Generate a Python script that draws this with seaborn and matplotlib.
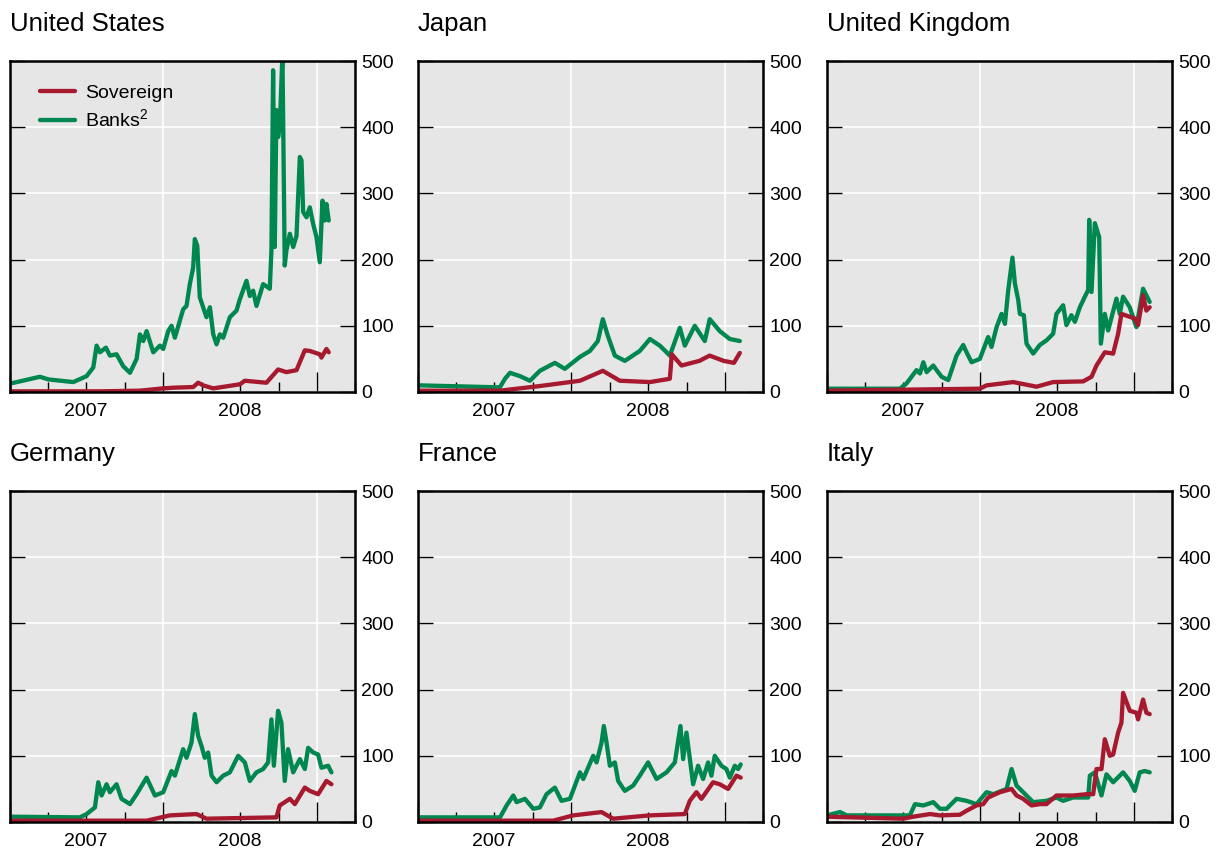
import numpy as np
import pandas as pd
import matplotlib
matplotlib.use("Agg")
import matplotlib.pyplot as plt
import matplotlib.dates as mdates
import matplotlib.ticker as mticker
from matplotlib.lines import Line2D
import seaborn as sns

# Five-year CDS spreads, basis points.
# *_t values are months elapsed since 1 January 2007.
countries = ["United States", "Japan", "United Kingdom", "Germany", "France", "Italy"]
series_names = ["Sovereign", "Banks$^2$"]

us_sov_t = [0, 7.03, 10.16, 11.98, 12.76, 14.32, 14.71, 15.1, 15.89, 17.97, 18.36, 20.05,
            20.96, 21.61, 22.4, 23.05, 23.44, 24.22, 24.35, 24.74, 24.92]
us_sov_v = [1, 1, 2, 5.5, 6.5, 7.5, 14, 10, 5.5, 11.6, 17, 14, 34, 30, 33, 63, 62, 57, 52, 65, 60]
us_bank_t = [0.08, 2.34, 3.0, 4.95, 5.99, 6.51, 6.77, 7.03, 7.5, 7.81, 8.33, 8.85, 9.38, 9.9,
             10.16, 10.42, 10.68, 11.2, 11.72, 11.98, 12.37, 12.63, 12.89, 13.54, 13.8, 14.06,
             14.32, 14.45, 14.64, 14.84, 15.1, 15.36, 15.63, 15.89, 16.15, 16.41, 16.67, 17.19,
             17.71, 17.97, 18.49, 18.75, 19.01, 19.27, 19.79, 20.31, 20.44, 20.57, 20.7, 20.83,
             20.96, 21.09, 21.3, 21.48, 21.61, 21.88, 22.14, 22.4, 22.66, 22.79, 22.92, 23.18,
             23.44, 23.7, 23.96, 24.22, 24.43, 24.61, 24.74, 24.92]
us_bank_v = [13, 23, 19, 15, 24, 37, 70, 60, 67, 55, 57, 39, 29, 50, 87, 77, 92, 60, 70, 65, 92,
             100, 82, 125, 130, 163, 188, 231, 221, 143, 128, 113, 128, 87, 72, 87, 82, 113, 123,
             140, 168, 145, 153, 130, 163, 156, 214, 486, 219, 426, 385, 400, 510, 191, 214, 239,
             219, 236, 355, 350, 272, 264, 279, 254, 234, 196, 289, 259, 284, 259]

jp_sov_t = [0, 6.4, 9.53, 12.66, 14.45, 15.78, 18.13, 19.69, 19.84, 20.6, 22.0, 22.8, 23.9,
            24.7, 25.16]
jp_sov_v = [2, 2, 9, 17, 32, 17, 15, 20, 57, 40, 47, 55, 47, 44, 59]
jp_bank_t = [0.16, 6.4, 6.8, 7.19, 7.97, 8.75, 9.53, 10.7, 11.48, 12.66, 13.44, 14.06, 14.45,
             14.84, 15.39, 16.17, 17.34, 18.13, 18.91, 19.69, 20.47, 20.86, 21.64, 22.42, 22.81,
             23.59, 24.38, 25.16]
jp_bank_v = [10, 7, 20, 29, 24, 17, 32, 44, 35, 53, 62, 77, 110, 85, 55, 47, 62, 80, 70, 55, 97,
             70, 100, 77, 110, 92, 80, 77]

uk_sov_t = [0, 11.95, 12.47, 14.56, 16.38, 17.68, 20.03, 20.68, 21.07, 21.72, 22.37, 22.76,
            23.02, 24.06, 24.32, 24.71, 24.97, 25.23]
uk_sov_v = [2, 5, 10, 15, 8, 15, 16, 23, 40, 60, 58, 88, 118, 111, 101, 146, 123, 128]
uk_bank_t = [0, 5.7, 6.22, 7.0, 7.27, 7.53, 7.79, 8.31, 8.57, 8.96, 9.48, 10.13, 10.65, 10.91,
             11.3, 11.95, 12.6, 12.86, 13.26, 13.65, 13.91, 14.17, 14.5, 14.69, 14.95, 15.08,
             15.39, 15.6, 16.12, 16.64, 17.16, 17.68, 17.94, 18.46, 18.72, 19.11, 19.38, 19.77,
             20.16, 20.42, 20.5, 20.68, 20.94, 21.28, 21.41, 21.72, 21.98, 22.63, 22.89, 23.15,
             23.67, 24.19, 24.71, 25.23]
uk_bank_v = [5, 5, 13, 33, 28, 45, 30, 40, 33, 23, 18, 55, 71, 60, 45, 50, 83, 68, 98, 118, 103,
             154, 203, 164, 139, 118, 116, 73, 58, 71, 78, 88, 118, 131, 101, 116, 106, 128, 144,
             154, 260, 151, 255, 234, 73, 118, 93, 141, 118, 144, 128, 98, 156, 136]

de_sov_t = [0, 10.68, 12.5, 14.58, 15.36, 20.83, 21.09, 21.88, 22.27, 23.05, 23.44, 24.09,
            24.74, 25.13]
de_sov_v = [2, 2, 10, 12, 5, 7, 25, 35, 27, 52, 47, 42, 62, 57]
de_bank_t = [0.08, 5.47, 5.99, 6.64, 6.9, 7.16, 7.55, 7.81, 8.33, 8.72, 9.38, 9.9, 10.68, 11.33,
             11.98, 12.63, 12.89, 13.54, 13.8, 14.19, 14.45, 14.71, 14.97, 15.23, 15.49, 15.76,
             16.15, 16.67, 17.19, 17.84, 18.36, 18.75, 19.27, 19.79, 20.18, 20.44, 20.63, 20.96,
             21.22, 21.48, 21.74, 22.14, 22.66, 23.05, 23.31, 23.7, 24.09, 24.35, 24.87, 25.13]
de_bank_v = [8, 7, 12, 22, 60, 40, 57, 45, 57, 35, 27, 42, 67, 40, 45, 77, 70, 110, 97, 120, 163,
             130, 115, 97, 105, 70, 60, 70, 75, 100, 90, 62, 75, 80, 90, 155, 85, 168, 150, 62,
             110, 75, 95, 80, 112, 105, 102, 82, 85, 75]

fr_sov_t = [0, 10.57, 12.14, 14.35, 15.26, 18.13, 20.86, 21.25, 21.77, 22.16, 23.07, 23.59,
            24.24, 24.9, 25.23]
fr_sov_v = [2, 2, 10, 15, 5, 10, 12, 32, 45, 35, 60, 57, 50, 70, 67]
fr_bank_t = [0.08, 6.41, 6.93, 7.45, 7.71, 8.36, 9.01, 9.53, 10.05, 10.7, 11.22, 11.88, 12.66,
             12.92, 13.7, 13.96, 14.35, 14.53, 14.74, 15.0, 15.39, 15.65, 16.17, 16.82, 17.34,
             17.99, 18.65, 19.43, 20.08, 20.52, 20.73, 20.99, 21.51, 21.9, 22.29, 22.68, 22.94,
             23.2, 23.72, 24.11, 24.38, 24.77, 25.03, 25.23]
fr_bank_v = [7, 7, 25, 40, 30, 35, 20, 22, 42, 52, 32, 35, 75, 65, 100, 90, 120, 145, 120, 85,
             90, 62, 47, 55, 70, 90, 65, 75, 90, 145, 95, 135, 57, 85, 65, 90, 70, 100, 85, 80,
             67, 85, 80, 87]

it_sov_t = [0, 5.96, 6.74, 8.05, 8.83, 10.39, 10.91, 11.69, 12.21, 12.6, 13.52, 14.43, 14.82,
            15.34, 15.99, 16.64, 17.16, 17.94, 19.24, 20.29, 20.81, 21.07, 21.46, 21.72, 22.11,
            22.37, 22.76, 23.02, 23.15, 23.67, 24.19, 24.32, 24.71, 24.97, 25.23]
it_sov_v = [8, 5, 8, 12, 10, 11, 17, 25, 27, 37, 45, 50, 40, 35, 25, 27, 27, 40, 40, 42, 42, 80,
            80, 125, 100, 102, 135, 150, 195, 168, 165, 155, 185, 165, 163]
it_bank_t = [0, 1.02, 1.54, 6.48, 6.88, 7.53, 8.31, 8.83, 9.35, 10.13, 10.91, 11.69, 12.47,
             13.0, 14.04, 14.43, 14.82, 15.34, 16.12, 17.16, 17.94, 18.46, 19.24, 20.42, 20.55,
             20.94, 21.46, 21.85, 22.37, 23.15, 23.67, 24.06, 24.45, 24.84, 25.23]
it_bank_v = [10, 15, 10, 10, 27, 25, 30, 20, 20, 35, 32, 27, 45, 42, 50, 80, 55, 45, 30, 32, 37,
             32, 37, 37, 70, 75, 40, 72, 60, 75, 62, 47, 75, 77, 75]

sov_t = [us_sov_t, jp_sov_t, uk_sov_t, de_sov_t, fr_sov_t, it_sov_t]
sov_v = [us_sov_v, jp_sov_v, uk_sov_v, de_sov_v, fr_sov_v, it_sov_v]
bank_t = [us_bank_t, jp_bank_t, uk_bank_t, de_bank_t, fr_bank_t, it_bank_t]
bank_v = [us_bank_v, jp_bank_v, uk_bank_v, de_bank_v, fr_bank_v, it_bank_v]

y_ticks = [0, 100, 200, 300, 400, 500]
year_labels = ["2007", "2008"]

RED = "#a6192e"
GREEN = "#00874f"
BG = "#e6e6e6"
START = pd.Timestamp("2007-01-01")


def to_dates(months):
    return START + pd.to_timedelta(np.asarray(months, dtype=float) * 30.4375, unit="D")


def year_label(x, pos):
    d = mdates.num2date(x)
    y = d.strftime("%Y")
    return y if d.month == 7 and y in year_labels else ""


sns.set_theme(style="white")
plt.rcParams["font.family"] = ["Liberation Sans", "DejaVu Sans"]
plt.rcParams["mathtext.fontset"] = "custom"
plt.rcParams["mathtext.rm"] = "Liberation Sans"
plt.rcParams["mathtext.it"] = "Liberation Sans"
plt.rcParams["mathtext.default"] = "regular"
plt.rcParams["text.color"] = "black"
plt.rcParams["axes.facecolor"] = BG

fig = plt.figure(figsize=(12.22, 8.5), dpi=100)
W, H = 1222.0, 850.0
lefts = [10, 418, 827]
tops = [61, 491]
aw, ah = 345, 331
LW = 3.1

for i, name in enumerate(countries):
    r, c = divmod(i, 3)
    ax = fig.add_axes([lefts[c] / W, 1 - (tops[r] + ah) / H, aw / W, ah / H])
    ax.set_facecolor(BG)

    df = pd.concat([
        pd.DataFrame({"date": to_dates(bank_t[i]), "bp": bank_v[i], "series": series_names[1]}),
        pd.DataFrame({"date": to_dates(sov_t[i]), "bp": sov_v[i], "series": series_names[0]}),
    ])
    sns.lineplot(data=df, x="date", y="bp", hue="series", units="series", estimator=None,
                 palette={series_names[0]: RED, series_names[1]: GREEN},
                 hue_order=[series_names[1], series_names[0]],
                 linewidth=LW, ax=ax, legend=False, sort=False, zorder=3)

    ax.set_xlim(pd.Timestamp("2007-01-01"), pd.Timestamp("2009-04-01"))
    ax.set_ylim(0, 500)
    ax.set_xlabel("")
    ax.set_ylabel("")

    # year boundaries: long ticks + white grid; quarters: short ticks
    ax.xaxis.set_major_locator(mdates.YearLocator())
    ax.xaxis.set_major_formatter(mticker.NullFormatter())
    ax.xaxis.set_minor_locator(mdates.MonthLocator(bymonth=[4, 7, 10]))
    ax.xaxis.set_minor_formatter(mticker.FuncFormatter(year_label))
    ax.tick_params(axis="x", which="major", direction="in", length=14.5, width=1.0,
                   color="black", bottom=True, top=False)
    ax.tick_params(axis="x", which="minor", direction="in", length=7, width=1.0,
                   color="black", bottom=True, top=False, labelsize=14, pad=8,
                   labelcolor="black")

    ax.set_yticks(y_ticks)
    ax.yaxis.set_major_formatter(mticker.FuncFormatter(lambda v, p: f"{int(v)}"))
    ax.tick_params(axis="y", which="major", direction="in", length=11, width=1.0,
                   color="black", left=True, right=True, labelleft=False, labelright=True,
                   labelsize=14, pad=4.5, labelcolor="black")

    ax.grid(True, which="major", color="white", linewidth=1.2)
    ax.set_axisbelow(True)
    for s in ax.spines.values():
        s.set_visible(True)
        s.set_color("black")
        s.set_linewidth(1.8)
        s.set_zorder(5)

    ax.annotate(name, xy=(0, 1), xycoords="axes fraction", xytext=(0, 21.8),
                textcoords="offset points", ha="left", va="baseline", fontsize=18.5,
                color="black")

    if i == 0:
        handles = [Line2D([], [], color=RED, linewidth=LW),
                   Line2D([], [], color=GREEN, linewidth=LW)]
        leg = ax.legend(handles, series_names, loc="upper left", bbox_to_anchor=(0.088, 0.93),
                        frameon=False, fontsize=14, handlelength=1.8, handletextpad=0.5,
                        labelspacing=0.35, borderaxespad=0, borderpad=0)
        for t in leg.get_texts():
            t.set_color("black")

fig.savefig("out.png", dpi=100, facecolor="white")
